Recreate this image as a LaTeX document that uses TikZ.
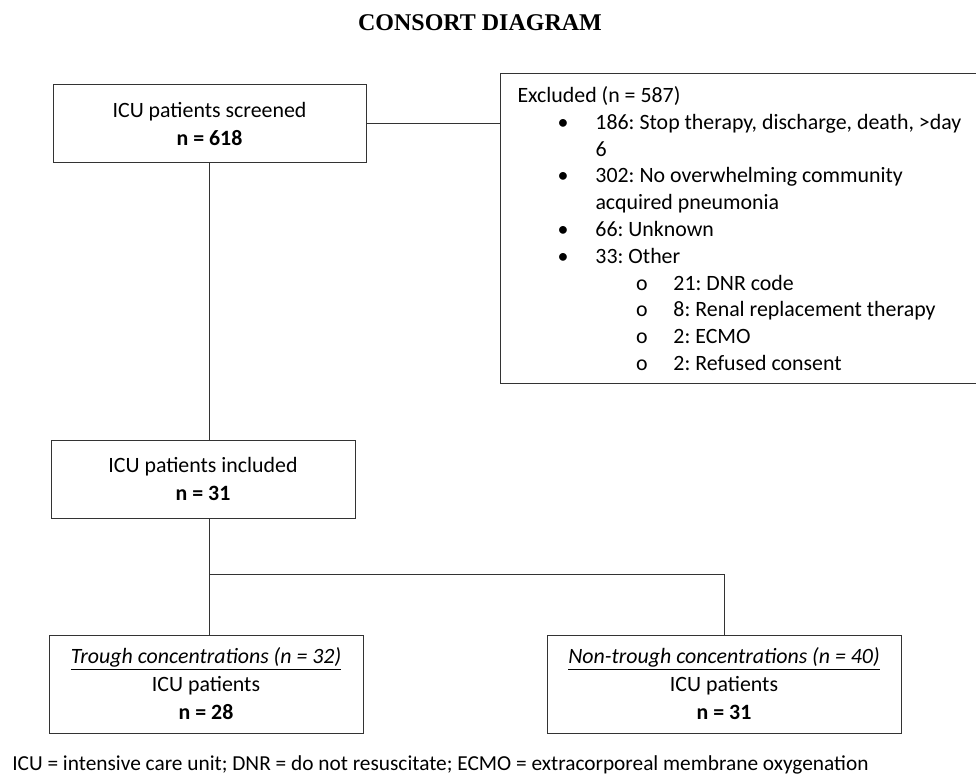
\documentclass[tikz,border=0pt]{standalone}
\usepackage{fontspec}
\setmainfont{Carlito}
\newfontfamily\titlefont{Liberation Serif}
\usetikzlibrary{positioning}
\frenchspacing

\newcommand{\itm}{\hspace*{30pt}\makebox[28.5pt][l]{•}}
\newcommand{\cnt}{\hspace*{58.5pt}}
\newcommand{\sitm}{\hspace*{89pt}\makebox[28pt][l]{o}}

\tikzset{
  box/.style={draw=black!80, line width=0.75pt, rectangle, align=center, inner sep=0pt,
    font=\fontsize{16.4}{21}\selectfont},
  exbox/.style={draw=black!80, line width=0.75pt, rectangle, align=flush left, inner ysep=0pt,
    inner xsep=12.75pt, text width=345pt, font=\fontsize{16.4}{20.1}\selectfont},
  link/.style={draw=black!80, line width=0.75pt}
}

\begin{document}
\begin{tikzpicture}[x=0.75pt,y=-0.75pt] %Diagrama CONSORT
  \useasboundingbox (0,0) rectangle (976,774);

  \node (title) at (480,23) {\titlefont\bfseries\fontsize{18}{20}\selectfont CONSORT DIAGRAM};

  \node[box, minimum width=234.75pt, minimum height=58.5pt] (scr) at (209.5,124)
    {ICU patients screened\\ \textbf{n = 618}};
  \node[exbox, anchor=north west, minimum width=367.5pt, minimum height=232.5pt] (excl) at (500,73)
    {Excluded (n = 587)\\
     \itm 186: Stop therapy, discharge, death, >day\\
     \cnt 6\\
     \itm 302: No overwhelming community\\
     \cnt acquired pneumonia\\
     \itm 66: Unknown\\
     \itm 33: Other\\
     \sitm 21: DNR code\\
     \sitm 8: Renal replacement therapy\\
     \sitm 2: ECMO\\
     \sitm 2: Refused consent};

  \node[box, minimum width=228pt, minimum height=58.5pt] (incl) at (203,479)
    {ICU patients included\\ \textbf{n = 31}};

  \node[box, minimum width=235.5pt, minimum height=73.5pt] (trough) at (206,684)
    {\underline{\textit{Trough concentrations (n = 32)}}\\ ICU patients\\ \textbf{n = 28}};
  \node[box, minimum width=265.5pt, minimum height=73.5pt] (nontr) at (724,684)
    {\underline{\textit{Non-trough concentrations (n = 40)}}\\ ICU patients\\ \textbf{n = 31}};

  \node[anchor=west, inner sep=0pt, font=\fontsize{16}{20}\selectfont] (note) at (12,765)
    {ICU = intensive care unit; DNR = do not resuscitate; ECMO = extracorporeal membrane oxygenation};

  \coordinate (fork) at (209,574);

  \draw[link] (scr.east) -- (scr.east -| excl.west);
  \draw[link] (scr.south -| fork) -- (incl.north -| fork);
  \draw[link] (incl.south -| fork) -- (fork) -- (fork -| nontr.north) -- (nontr.north);
  \draw[link] (fork) -- (trough.north -| fork);
\end{tikzpicture}
\end{document}
